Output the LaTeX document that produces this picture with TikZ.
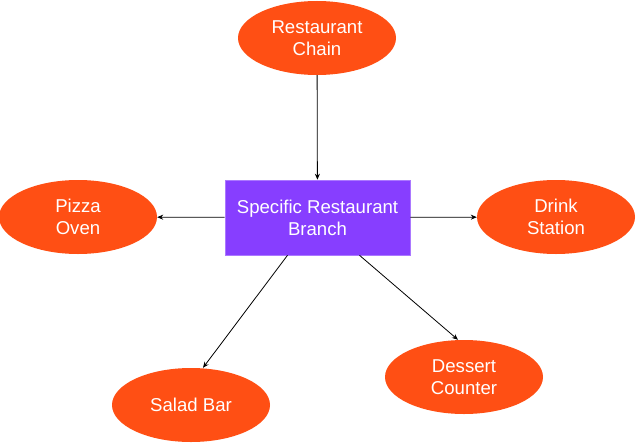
\documentclass[tikz,border=0pt]{standalone}
\usepackage{fontspec}
\setmainfont{Liberation Sans}
\usetikzlibrary{shapes.geometric, arrows.meta}
\definecolor{chainorange}{HTML}{FF4F14}
\definecolor{branchpurple}{HTML}{873EFF}
\tikzstyle{place} =
[
	ellipse
	, minimum width=158pt
	, minimum height=74pt
	, inner sep=0pt
	, align=center
	, text=white
	, fill=chainorange
	, font=\fontsize{18.6}{22}\selectfont
]
\tikzstyle{branchbox} =
[
	rectangle
	, minimum width=185pt
	, minimum height=75pt
	, align=center
	, text=white
	, fill=branchpurple
	, draw=branchpurple!70!white
	, line width=0.6pt
	, font=\fontsize{18.6}{22}\selectfont
]
\tikzstyle{arrow} = [line width=0.8pt,-{Stealth[length=6pt,width=5pt]}]

\begin{document}
\begin{tikzpicture}[x=1pt, y=-1pt]

\useasboundingbox (0,0) rectangle (636,444);

\node(branch)[branchbox] at (317.5,217.5){Specific Restaurant\\Branch};
\node(chain)[place] at (317,38){Restaurant\\Chain};
\node(pizza)[place] at (78,217){Pizza\\Oven};
\node(drink)[place] at (556,217){Drink\\Station};
\node(salad)[place] at (191,405){Salad Bar};
\node(dessert)[place] at (464,377){Dessert\\Counter};

\draw[arrow](chain)--(branch);
\draw[arrow](branch)--(pizza);
\draw[arrow](branch)--(drink);
\draw[arrow]([xshift=-30pt]branch.south)--([xshift=12pt]salad.north);
\draw[arrow]([xshift=42pt]branch.south)--([xshift=-6pt]dessert.north);

\end{tikzpicture}
\end{document}
